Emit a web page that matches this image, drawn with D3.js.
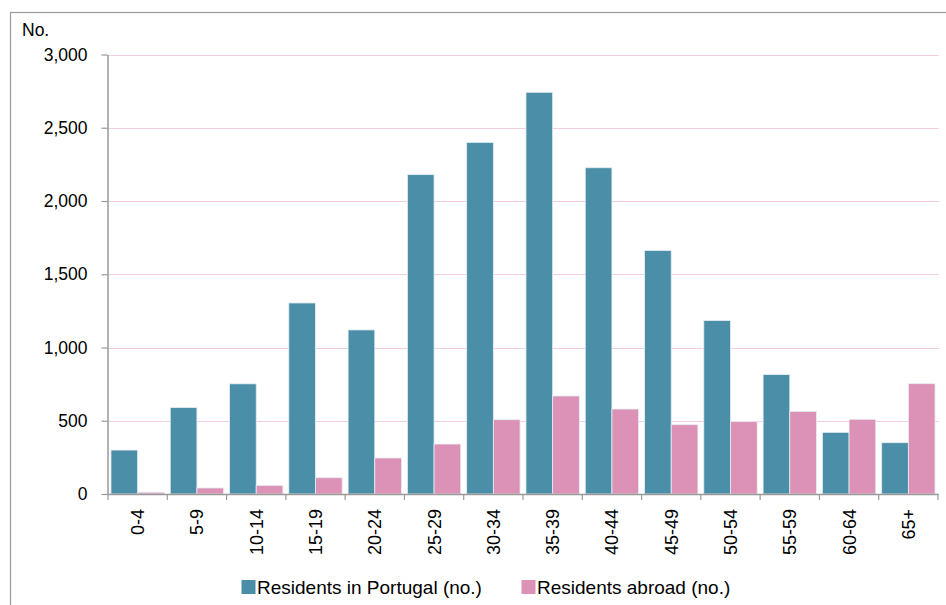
<!DOCTYPE html>
<html>
<head>
<meta charset="utf-8">
<script src="https://cdn.jsdelivr.net/npm/d3@7"></script>
<style>
  html, body { margin: 0; padding: 0; background: #fff; }
  svg { display: block; }
  text { font-family: "Liberation Sans", Arial, sans-serif; fill: #000; }
</style>
</head>
<body>
<svg id="chart" width="946" height="605"></svg>
<script>
// Age groups and resident counts
const ageGroups = ["0-4","5-9","10-14","15-19","20-24","25-29","30-34","35-39","40-44","45-49","50-54","55-59","60-64","65+"];
const residentsPortugal = [300, 590, 752, 1304, 1120, 2180, 2400, 2742, 2227, 1662, 1184, 815, 421, 350];
const residentsAbroad = [12, 41, 59, 111, 246, 341, 507, 669, 580, 473, 494, 564, 510, 753];
const yTicks = [0, 500, 1000, 1500, 2000, 2500, 3000];
const seriesNames = ["Residents in Portugal (no.)", "Residents abroad (no.)"];
const seriesColors = ["#4a8ea8", "#db92b6"];

const svg = d3.select("#chart");
const plotLeft = 108, plotRight = 938, plotTop = 54.5, plotBottom = 494;

// Outer frame
svg.append("rect")
  .attr("x", 10.5).attr("y", 12.5)
  .attr("width", 1000).attr("height", 1000)
  .attr("fill", "none").attr("stroke", "#9a9a9a").attr("stroke-width", 1.2);

const x = d3.scaleBand().domain(ageGroups).range([plotLeft, plotRight]).paddingInner(0.1).paddingOuter(0.05);
const xBand = d3.scaleBand().domain(ageGroups).range([plotLeft, plotRight]);
const inner = d3.scaleBand().domain([0, 1]).range([0, x.bandwidth()]);
const y = d3.scaleLinear().domain([0, 3000]).range([plotBottom, plotTop]);

// Gridlines
svg.append("g").selectAll("line").data(yTicks.filter(d => d > 0)).join("line")
  .attr("x1", plotLeft).attr("x2", plotRight + 1)
  .attr("y1", d => Math.round(y(d)) + 0.5).attr("y2", d => Math.round(y(d)) + 0.5)
  .attr("stroke", "#f4cde0").attr("stroke-width", 1);

// Bars
const series = [residentsPortugal, residentsAbroad];
series.forEach((vals, si) => {
  svg.append("g").selectAll("rect").data(vals).join("rect")
    .attr("x", (d, i) => x(ageGroups[i]) + inner(si))
    .attr("y", d => y(d))
    .attr("width", inner.bandwidth())
    .attr("height", d => y(0) - y(d))
    .attr("fill", seriesColors[si])
    .attr("stroke", "#e6eef2").attr("stroke-width", 0.8);
});

// Y axis
const yAxis = svg.append("g").attr("transform", `translate(${plotLeft - 0.5},0)`)
  .call(d3.axisLeft(y).tickValues(yTicks).tickSize(6).tickSizeOuter(0).tickFormat(d3.format(",")));
yAxis.select(".domain").attr("stroke", "#999").attr("stroke-width", 1.5);
yAxis.selectAll(".tick line").attr("stroke", "#999").attr("stroke-width", 1.2);
yAxis.selectAll(".tick text").attr("x", -20).attr("font-size", 17.5)
  .attr("font-family", "'Open Sans', 'Liberation Sans', sans-serif");

// X axis baseline and ticks at band boundaries
svg.append("line").attr("x1", plotLeft - 0.5).attr("x2", plotRight + 0.5)
  .attr("y1", plotBottom + 0.5).attr("y2", plotBottom + 0.5)
  .attr("stroke", "#999").attr("stroke-width", 1.5);
const bounds = ageGroups.map(g => xBand(g)).concat([plotRight]);
svg.append("g").selectAll("line").data(bounds).join("line")
  .attr("x1", d => d).attr("x2", d => d)
  .attr("y1", plotBottom).attr("y2", plotBottom + 6)
  .attr("stroke", "#999").attr("stroke-width", 1.2);

// Rotated category labels
svg.append("g").selectAll("text").data(ageGroups).join("text")
  .attr("transform", d => `translate(${xBand(d) + xBand.bandwidth() / 2 + 6.5},${plotBottom + 15}) rotate(-90)`)
  .attr("text-anchor", "end")
  .attr("font-size", 18)
  .text(d => d);

// Unit label
svg.append("text").attr("x", 22).attr("y", 36).attr("font-size", 17.5)
  .attr("font-family", "'Open Sans', 'Liberation Sans', sans-serif").text("No.");

// Legend
const legendX = [241.5, 521.5];
seriesNames.forEach((name, i) => {
  svg.append("rect").attr("x", legendX[i]).attr("y", 580).attr("width", 14).attr("height", 14)
    .attr("fill", seriesColors[i]);
  svg.append("text").attr("x", legendX[i] + 15.5).attr("y", 594).attr("font-size", 19).text(name);
});
</script>
</body>
</html>
